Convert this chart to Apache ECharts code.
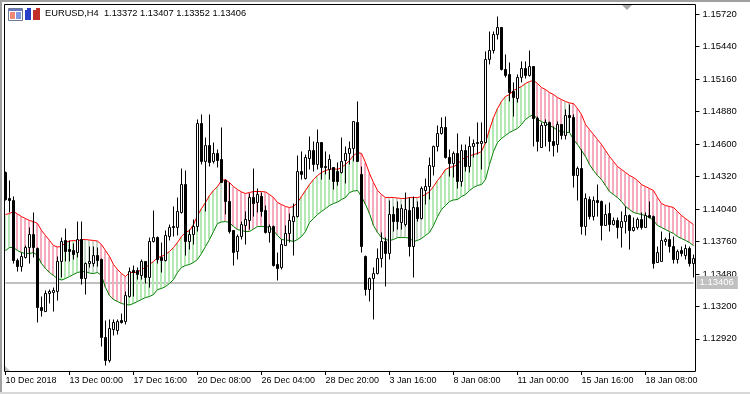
<!DOCTYPE html>
<html><head><meta charset="utf-8">
<style>html,body{margin:0;padding:0;background:#fff}#c{width:750px;height:394px}</style>
<script src="https://cdn.jsdelivr.net/npm/echarts@6/dist/echarts.min.js"></script>
</head><body><div id="c"></div>
<script>
const symbolTitle = 'EURUSD,H4  1.13372 1.13407 1.13352 1.13406';
const lastPrice = 1.13406;
const yTicks = [1.1292,1.132,1.1348,1.1376,1.1404,1.1432,1.146,1.1488,1.1516,1.1544,1.1572];
const xLabels = ['10 Dec 2018','13 Dec 00:00','17 Dec 16:00','20 Dec 08:00','26 Dec 04:00','28 Dec 20:00','3 Jan 16:00','8 Jan 08:00','11 Jan 00:00','15 Jan 16:00','18 Jan 08:00'];
// prices below are points above 1.00000 (13372 = 1.13372)
const openPts = [14354,14130,14112,13595,13543,13621,13707,13819,13699,13190,13155,13311,13319,13328,13587,13768,13690,13681,13664,13776,13440,13569,13569,13638,13604,12932,12733,13000,12992,13078,13069,13285,13509,13509,13466,13587,13449,13759,13793,13621,13595,13802,13888,13880,14009,14250,13759,13819,13888,14776,14449,14586,14449,14518,14466,14285,14104,13854,13673,13802,13897,13940,14138,14095,14147,14026,13837,13888,13561,13535,13724,13828,13931,13974,14362,14302,14474,14543,14423,14612,14405,14380,14397,14362,14354,14457,14518,14561,14785,14337,13630,13345,13440,13483,13612,13759,13656,13992,14043,13923,13905,14026,13716,14052,13957,14199,14233,14405,14578,14690,14742,14483,14431,14518,14276,14543,14405,14578,14612,14604,14612,15328,15405,15543,15604,15242,15199,15052,14992,15173,15250,15190,15267,14819,14569,14759,14785,14621,14595,14768,14673,14845,14828,14328,14388,13888,14121,13974,14112,14104,13897,14000,13905,13940,13880,13931,13983,13854,13880,13949,13880,13983,13974,13578,13587,13759,13776,13716,13604,13681,13638,13699,13569];
const highPts = [14362,14285,14147,13612,13664,13724,13880,14009,13707,13285,13337,13345,13362,13630,13793,13871,13768,13742,13931,13931,13578,13716,13716,13707,13612,13078,13087,13087,13087,13138,13328,13535,13552,13535,13604,13587,13793,14026,13802,13750,13854,13905,14061,14138,14388,14371,13862,13949,14811,14854,14655,14854,14612,14552,14742,14293,14267,13854,13819,13931,14018,14173,14388,14216,14181,14069,13905,13897,13664,13776,13897,14000,14086,14500,14535,14509,14664,14621,14724,14612,14535,14509,14397,14440,14655,14578,14621,14793,14966,14405,13638,13449,13535,13699,13837,13793,14112,14061,14104,14078,14181,14138,14147,14104,14233,14302,14483,14586,14759,14828,14836,14552,14535,14690,14595,14595,14664,14638,14785,14785,15397,15569,15569,15698,15604,15371,15302,15130,15199,15311,15311,15405,15267,14836,14785,14811,14793,14750,14793,14768,14897,14940,14854,14405,14552,14173,14147,14147,14250,14112,14078,14095,13966,13966,14018,14061,13992,13966,13966,14009,14009,14104,13983,13716,13845,13793,13837,13802,13690,13716,13733,13716,13647];
const lowPts = [14112,14009,13569,13500,13500,13612,13569,13621,13061,13112,13155,13225,13155,13250,13449,13587,13587,13604,13621,13388,13302,13535,13543,13543,12854,12690,12716,12949,12957,13052,13044,13276,13285,13431,13431,13397,13362,13750,13569,13492,13587,13768,13802,13811,14000,13638,13690,13733,13845,14423,14018,14405,14431,14397,14267,13992,13828,13552,13604,13776,13733,13862,13974,14009,13974,13828,13750,13543,13423,13518,13724,13750,13638,13966,14293,14293,14380,14362,14380,14293,14337,14293,14207,14241,14345,14259,14423,14449,14449,13664,13293,13242,13087,13475,13535,13371,13604,13845,13862,13862,13888,13630,13449,13931,13949,14078,14121,14328,14535,14681,14474,14319,14311,14216,14233,14362,14354,14483,14509,14380,14604,15285,15379,15500,15233,15173,14966,14836,14957,15130,15164,15181,14578,14535,14569,14578,14535,14492,14526,14638,14638,14699,14224,14112,13819,13811,13949,13940,13974,13768,13897,13845,13897,13785,13707,13828,13690,13845,13862,13862,13880,13957,13526,13578,13587,13724,13664,13569,13569,13630,13604,13543,13449];
const closePts = [14121,14112,13595,13543,13630,13707,13819,13707,13190,13164,13311,13328,13337,13587,13759,13673,13673,13647,13776,13440,13569,13587,13638,13595,12932,12733,13009,13061,13069,13061,13293,13500,13492,13475,13587,13449,13759,13793,13604,13595,13811,13880,13880,14018,14250,13759,13819,13888,14776,14449,14586,14440,14518,14457,14267,14104,13845,13664,13802,13905,13949,14138,14086,14164,14018,13837,13888,13552,13526,13733,13828,13940,13974,14362,14337,14483,14543,14423,14612,14397,14397,14466,14276,14276,14449,14518,14561,14793,14449,13716,13345,13440,13483,13612,13759,13656,13992,13931,13931,14043,14035,13716,14052,13957,14216,14233,14414,14578,14690,14742,14483,14431,14518,14276,14543,14405,14578,14604,14604,14621,15328,15405,15543,15604,15242,15190,15043,15000,15173,15250,15190,15267,14819,14621,14759,14785,14621,14586,14768,14673,14845,14828,14328,14388,13888,14130,13974,14112,14095,13897,13992,13905,13940,13880,13931,13983,13854,13880,13949,13880,13983,13966,13569,13664,13768,13776,13716,13604,13673,13656,13699,13569,13612];
const upperPts = [13992,14000,14018,13996,13974,13957,13940,13931,13914,13854,13811,13768,13724,13712,13716,13750,13763,13768,13763,13776,13776,13772,13768,13763,13733,13681,13630,13561,13518,13483,13457,13492,13492,13494,13518,13535,13561,13587,13621,13630,13647,13673,13707,13750,13802,13837,13854,13905,13983,14043,14095,14155,14199,14233,14285,14293,14267,14233,14207,14186,14173,14181,14190,14190,14190,14186,14164,14138,14095,14078,14061,14052,14061,14095,14147,14199,14250,14293,14328,14354,14371,14380,14388,14380,14397,14423,14457,14500,14526,14518,14440,14345,14267,14199,14164,14138,14138,14138,14134,14130,14130,14138,14138,14138,14147,14164,14190,14233,14285,14328,14380,14397,14405,14423,14466,14483,14496,14509,14518,14535,14612,14724,14828,14905,14966,15009,15026,15061,15078,15095,15121,15138,15147,15121,15086,15069,15043,15026,15000,14983,14966,14953,14948,14905,14854,14768,14724,14681,14638,14595,14543,14492,14449,14405,14380,14354,14328,14311,14285,14250,14233,14216,14199,14138,14086,14069,14061,14052,14018,13983,13957,13931,13905];
const lowerPts = [13681,13707,13707,13681,13664,13656,13656,13664,13638,13569,13526,13492,13466,13440,13427,13440,13457,13475,13492,13500,13500,13487,13483,13492,13466,13362,13293,13259,13242,13225,13216,13212,13225,13242,13259,13276,13285,13302,13345,13354,13371,13397,13431,13492,13535,13552,13561,13578,13604,13656,13716,13776,13845,13914,13927,13931,13923,13888,13862,13854,13845,13845,13867,13888,13888,13888,13880,13854,13811,13776,13772,13768,13759,13776,13802,13845,13923,13957,13992,14018,14043,14069,14086,14099,14121,14138,14181,14194,14199,14147,14078,14000,13897,13837,13793,13776,13768,13776,13793,13793,13793,13789,13759,13768,13785,13811,13837,13897,13974,14035,14069,14104,14117,14121,14147,14164,14199,14224,14242,14250,14293,14423,14535,14612,14647,14673,14699,14716,14733,14768,14811,14836,14854,14811,14793,14776,14759,14742,14716,14707,14699,14699,14638,14595,14543,14492,14423,14371,14328,14293,14242,14190,14164,14138,14104,14061,14035,14009,14000,13992,13983,13966,13940,13897,13880,13862,13845,13828,13802,13785,13768,13750,13724];
// colouring of the band between the two lines: [first bar, last bar, phase]
const phaseRuns = [[0,2,'up'],[3,13,'down'],[14,19,'up'],[20,23,'flat'],[24,30,'down'],[31,53,'up'],[54,54,'flat'],[55,71,'down'],[72,72,'flat'],[73,88,'up'],[89,95,'down'],[96,104,'flat'],[105,132,'up'],[133,139,'down'],[140,141,'flat'],[142,172,'down']];

const phaseColor = {up:'#B4E8B4', down:'#F4ACBE', flat:'#C8D8C8'};
const toPrice = v => +(1 + v / 1e5).toFixed(5);
const cats = openPts.map((_, i) => String(i));
const phaseAt = i => phaseRuns.find(r => i >= r[0] && i <= r[1])[2];
const candles = openPts.map((o, i) => [toPrice(o), toPrice(closePts[i]), toPrice(lowPts[i]), toPrice(highPts[i])]);
const band = upperPts.map((u, i) => [i, toPrice(lowerPts[i]), toPrice(u), phaseAt(i)]);
const FONT = '"Liberation Sans", Arial, sans-serif';

const chart = echarts.init(document.getElementById('c'), null, {renderer:'canvas'});
chart.setOption({
  animation:false, backgroundColor:'#fff',
  grid:{left:5.5, right:56.5, top:4, height:367, containLabel:false},
  xAxis:{type:'category', data:cats, boundaryGap:false,
    axisLine:{show:false},
    axisTick:{show:true, interval:15, length:4, inside:false, lineStyle:{color:'#000',width:1}},
    axisLabel:{show:true, interval:15, align:'left', margin:5, color:'#000', fontFamily:FONT, fontSize:9,
      formatter:(v,i)=>xLabels[i/16]||''},
    splitLine:{show:false}},
  yAxis:{type:'value', position:'right', offset:2, min:1.12643, max:1.15806, scale:true,
    axisLine:{show:false},
    axisTick:{show:true, length:4, customValues:yTicks, lineStyle:{color:'#000',width:1}},
    axisLabel:{show:true, customValues:yTicks, margin:7, color:'#000', fontFamily:FONT, fontSize:9.5,
      formatter:v=>v.toFixed(5)},
    splitLine:{show:false}},
  title:{text:symbolTitle, left:45, top:9, padding:0, textStyle:{fontFamily:FONT,fontSize:9.3,fontWeight:'normal',color:'#000'}},
  series:[
    {type:'custom', z:1, clip:false, data:band, encode:{x:0,y:[1,2]},
      renderItem:(p,api)=>{
        const a=api.coord([api.value(0),api.value(1)]), b=api.coord([api.value(0),api.value(2)]);
        return {type:'rect', shape:{x:Math.floor(a[0])-1, y:b[1], width:2, height:a[1]-b[1]},
          style:{fill:phaseColor[band[p.dataIndex][3]]}};
      }},
    {type:'line', z:2, data:upperPts.map(toPrice), symbol:'none', lineStyle:{color:'#FF0000',width:1}, clip:false,
      markLine:{silent:true, symbol:'none', z:1, animation:false, precision:5,
        lineStyle:{color:'#C0C0C0',width:2,type:'solid'},
        label:{show:true, position:'end', distance:3, formatter:()=>lastPrice.toFixed(5), color:'#fff', backgroundColor:'#C0C0C0',
          fontFamily:FONT,fontSize:9.5,padding:[2,4,1,3]},
        data:[{yAxis:lastPrice}]}},
    {type:'line', z:2, data:lowerPts.map(toPrice), symbol:'none', lineStyle:{color:'#008000',width:1}, clip:false},
    {type:'candlestick', z:3, data:candles, barWidth:2, clip:false,
      itemStyle:{color:'#fff',color0:'#000',borderColor:'#000',borderColor0:'#000',borderColorDoji:'#000',borderWidth:1}}
  ],
  graphic:[
    {type:'rect',silent:true,z:50,shape:{x:0,y:0,width:750,height:2},style:{fill:'#A0A0A0'}},
    {type:'rect',silent:true,z:50,shape:{x:0,y:0,width:2,height:394},style:{fill:'#A0A0A0'}},
    {type:'rect',silent:true,z:50,shape:{x:0,y:392,width:750,height:2},style:{fill:'#D8D8D8'}},
    {type:'rect',silent:true,z:50,shape:{x:4.5,y:4.5,width:691,height:367},style:{fill:null,stroke:'#000',lineWidth:1}},
    {type:'polygon',silent:true,z:50,shape:{points:[[622,5],[632,5],[627,10]]},style:{fill:'#A8A8A8'}},
    {type:'polygon',silent:true,z:50,shape:{points:[[5,366],[5,371],[10,371]]},style:{fill:'#C0C0C0'}},
    {type:'rect',silent:true,z:50,shape:{x:8.5,y:8.5,width:14,height:12},style:{fill:'#fff',stroke:'#707890',lineWidth:1}},
    {type:'rect',silent:true,z:50,shape:{x:9,y:9,width:13,height:2},style:{fill:'#6878C8'}},
    {type:'rect',silent:true,z:50,shape:{x:10,y:12,width:5,height:7},style:{fill:'#F08878'}},
    {type:'rect',silent:true,z:50,shape:{x:16,y:12,width:5,height:7},style:{fill:'#8098E0'}},
    {type:'rect',silent:true,z:50,shape:{x:25,y:10,width:6,height:10},style:{fill:'#2840C8'}},
    {type:'rect',silent:true,z:50,shape:{x:27,y:8,width:4,height:3},style:{fill:'#2840C8'}},
    {type:'rect',silent:true,z:50,shape:{x:33,y:10,width:7,height:10},style:{fill:'#C03028'}},
    {type:'rect',silent:true,z:50,shape:{x:36,y:8,width:4,height:3},style:{fill:'#C03028'}}
  ]
});
</script></body></html>
